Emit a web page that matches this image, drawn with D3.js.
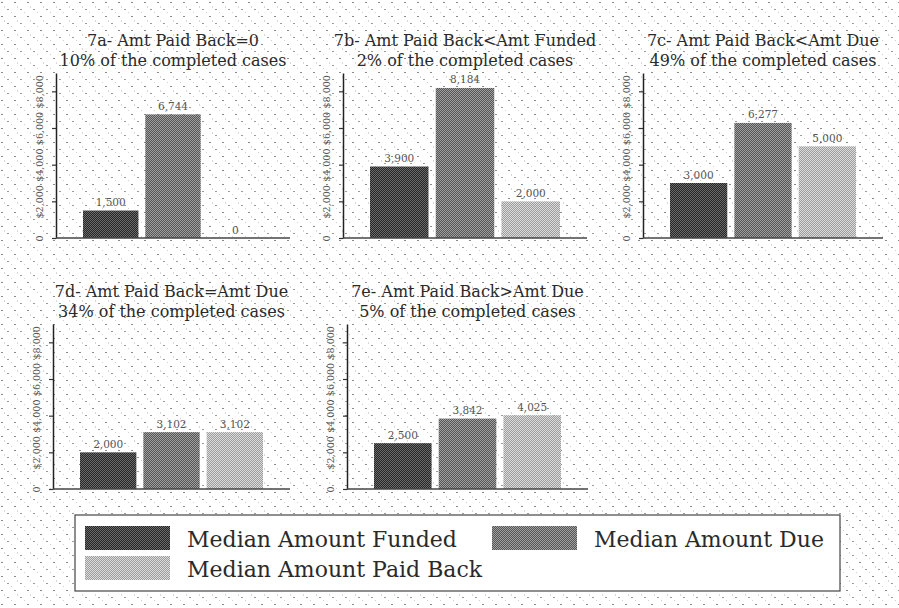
<!DOCTYPE html>
<html>
<head>
<meta charset="utf-8">
<script src="https://cdn.jsdelivr.net/npm/d3@7"></script>
<style>
  body { margin: 0; background: #fff; }
  svg { display: block; }
</style>
</head>
<body>
<div id="chart"></div>
<script>
// values
const seriesNames = ["Median Amount Funded", "Median Amount Due", "Median Amount Paid Back"];
const panelTitles = ["7a- Amt Paid Back=0", "7b- Amt Paid Back<Amt Funded", "7c- Amt Paid Back<Amt Due",
                     "7d- Amt Paid Back=Amt Due", "7e- Amt Paid Back>Amt Due"];
const panelShares = ["10% of the completed cases", "2% of the completed cases", "49% of the completed cases",
                     "34% of the completed cases", "5% of the completed cases"];
const amtFunded   = [1500, 3900, 3000, 2000, 2500];
const amtDue      = [6744, 8184, 6277, 3102, 3842];
const amtPaidBack = [0, 2000, 5000, 3102, 4025];
const yTicks = [0, 2000, 4000, 6000, 8000];

const W = 899, H = 608;
const FONT = "DejaVu Serif, serif";

const svg = d3.select("#chart").append("svg")
  .attr("width", W).attr("height", H)
  .attr("viewBox", `0 0 ${W} ${H}`);

const defs = svg.append("defs");

/* dithered fills, like the old bitmap export */
function dither(id, a, b) {
  const p = defs.append("pattern").attr("id", id)
    .attr("width", 2).attr("height", 2).attr("patternUnits", "userSpaceOnUse");
  p.append("rect").attr("width", 2).attr("height", 2).attr("fill", a);
  p.append("rect").attr("width", 1).attr("height", 1).attr("fill", b);
  p.append("rect").attr("x", 1).attr("y", 1).attr("width", 1).attr("height", 1).attr("fill", b);
}
dither("fillFunded", "#262626", "#6a6a6a");
dither("fillDue", "#555", "#a0a0a0");
dither("fillPaid", "#9c9c9c", "#dcdcdc");
const seriesFill = ["url(#fillFunded)", "url(#fillDue)", "url(#fillPaid)"];

const bg = defs.append("pattern").attr("id", "bgDots")
  .attr("width", 13).attr("height", 14).attr("patternUnits", "userSpaceOnUse");
bg.append("rect").attr("width", 13).attr("height", 14).attr("fill", "#fff");
[[1, 2, "#8a8a8a"], [2, 2, "#8a8a8a"], [7, 9, "#9a9a9a"], [8, 9, "#9a9a9a"],
 [4, 6, "#d8d8d8"], [4, 7, "#d8d8d8"], [11, 12, "#cfcfcf"]].forEach(([x, y, c]) =>
  bg.append("rect").attr("x", x).attr("y", y).attr("width", 1).attr("height", 1).attr("fill", c));

svg.append("rect").attr("width", W).attr("height", H).attr("fill", "url(#bgDots)");

/* panel geometry */
const plotLeft  = [56, 343, 643, 53, 347];
const plotRight = [290, 587, 883, 290, 588];
const rowBase = [238, 489];
const plotH = 165;

const fmtTick = d => d === 0 ? "0" : "$" + d3.format(",")(d);

panelTitles.forEach((title, i) => {
  const row = Math.floor(i / 3);
  const L = plotLeft[i], R = plotRight[i];
  const base = rowBase[row];
  const vals = [amtFunded[i], amtDue[i], amtPaidBack[i]];

  const y = d3.scaleLinear().domain([0, 9000]).range([base, base - plotH]);
  const x = d3.scaleBand().domain(seriesNames).range([L + 27, R - 27]).paddingInner(0.11);

  const g = svg.append("g");

  // titles
  const cx = (L + R) / 2;
  g.append("text").attr("x", cx).attr("y", base - plotH - 27)
    .attr("text-anchor", "middle").attr("font-family", FONT).attr("font-size", "16px")
    .attr("fill", "#2a2a2a").text(title);
  g.append("text").attr("x", cx).attr("y", base - plotH - 7)
    .attr("text-anchor", "middle").attr("font-family", FONT).attr("font-size", "16px")
    .attr("fill", "#2a2a2a").text(panelShares[i]);

  // bars
  g.selectAll("rect.bar").data(vals).join("rect").attr("class", "bar")
    .attr("x", (d, k) => x(seriesNames[k]))
    .attr("y", d => y(d))
    .attr("width", x.bandwidth())
    .attr("height", d => base - y(d))
    .attr("fill", (d, k) => seriesFill[k]);

  // value labels
  g.selectAll("text.val").data(vals).join("text").attr("class", "val")
    .attr("x", (d, k) => x(seriesNames[k]) + x.bandwidth() / 2)
    .attr("y", d => y(d) - 4.5)
    .attr("text-anchor", "middle").attr("font-family", FONT).attr("font-size", "10.5px")
    .attr("fill", "#555").text(d => d3.format(",")(d));

  // y axis
  const ax = g.append("g").attr("transform", `translate(${L},0)`)
    .call(d3.axisLeft(y).tickValues(yTicks).tickSize(4).tickSizeOuter(0).tickFormat(fmtTick));
  ax.select(".domain").attr("stroke", "#222").attr("stroke-width", 1.5);
  ax.selectAll(".tick line").attr("stroke", "#333").attr("stroke-width", 1.2);
  ax.selectAll(".tick text")
    .attr("transform", "rotate(-90)")
    .attr("x", 0).attr("y", -13).attr("dy", 0)
    .attr("text-anchor", "middle")
    .attr("font-family", FONT).attr("font-size", "9.5px").attr("fill", "#555");

  // baseline
  g.append("line").attr("x1", L).attr("x2", R).attr("y1", base).attr("y2", base)
    .attr("stroke", "#444").attr("stroke-width", 1.5);
});

/* legend */
const lg = svg.append("g");
const legBox = { x: 75, y: 515, w: 765, h: 76 };
lg.append("rect").attr("x", legBox.x).attr("y", legBox.y)
  .attr("width", legBox.w).attr("height", legBox.h)
  .attr("fill", "#fff").attr("stroke", "#444").attr("stroke-width", 1.2);

const legItems = [
  { name: seriesNames[0], fill: seriesFill[0], sx: 85, row: 0 },
  { name: seriesNames[1], fill: seriesFill[1], sx: 492, row: 0 },
  { name: seriesNames[2], fill: seriesFill[2], sx: 85, row: 1 }
];
legItems.forEach(it => {
  const ty = 526 + it.row * 30;
  lg.append("rect").attr("x", it.sx).attr("y", ty).attr("width", 85).attr("height", 24)
    .attr("fill", it.fill);
  lg.append("text").attr("x", it.sx + 102).attr("y", ty + 21)
    .attr("font-family", FONT).attr("font-size", "22px").attr("fill", "#2a2a2a")
    .text(it.name);
});
</script>
</body>
</html>
